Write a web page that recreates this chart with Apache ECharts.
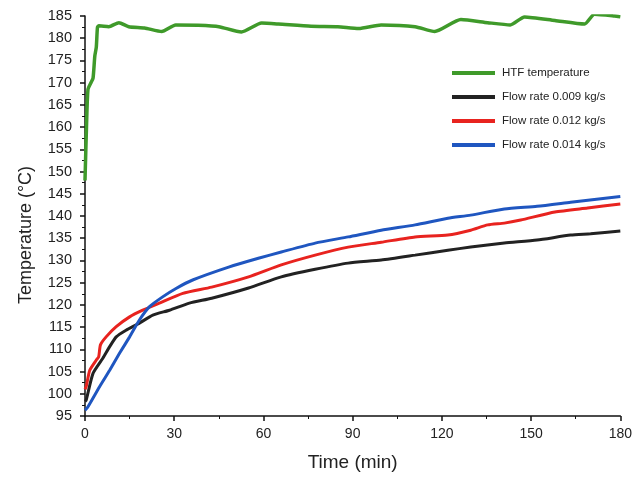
<!DOCTYPE html>
<html>
<head>
<meta charset="utf-8">
<script src="https://cdn.jsdelivr.net/npm/echarts@6/dist/echarts.min.js"></script>
<style>
  html, body { margin: 0; padding: 0; background: #fff; }
  #chart { width: 635px; height: 478px; }
</style>
</head>
<body>
<div id="chart"></div>
<script>
// HTF temperature
var htfTime = [0, 0.5, 1, 2, 2.7, 3.3, 3.8, 4.2, 4.7, 8, 11.4, 14.7, 20, 25.8, 30.5, 38, 45, 52.6, 59.4, 65, 76, 85, 92, 99.6, 111, 117.6, 126.4, 135.4, 143, 147.8, 158, 168, 171.3, 178, 180];
var htfTemp = [148, 160, 168.5, 170, 171, 176, 178, 182.5, 182.8, 182.6, 183.5, 182.6, 182.3, 181.5, 183, 182.9, 182.6, 181.4, 183.4, 183.2, 182.7, 182.6, 182.2, 183, 182.6, 181.5, 184.2, 183.5, 183, 184.8, 184, 183.2, 185.4, 185, 184.8];

// Flow rate 0.009 kg/s
var blackTime = [0, 0.4, 2.7, 6, 8.3, 10.5, 13.8, 18.3, 22.8, 28.4, 35.1, 42.6, 55, 66, 77.4, 88.5, 99.6, 111, 122, 129.7, 141, 152, 163.3, 170, 180];
var blackTemp = [98.3, 98.6, 104.6, 108, 110.6, 112.8, 114.3, 115.9, 117.7, 118.8, 120.4, 121.5, 123.8, 126.3, 128, 129.4, 130.1, 131.2, 132.3, 133, 133.9, 134.6, 135.7, 136, 136.6];

// Flow rate 0.012 kg/s
var redTime = [0, 0.4, 1.6, 3.8, 4.6, 5.2, 7.1, 10.5, 15, 19.4, 25, 32.9, 42.6, 55, 66, 77.4, 88.5, 99.6, 111, 122, 129.7, 135.4, 141, 146.5, 158, 169, 180];
var redTemp = [101, 101.6, 105.3, 107.6, 108.3, 111, 112.8, 115.1, 117.3, 118.8, 120.4, 122.6, 124, 126.3, 129, 131.2, 133, 134.1, 135.3, 135.7, 136.8, 138, 138.4, 139.1, 140.9, 141.8, 142.7];

// Flow rate 0.014 kg/s
var blueTime = [0, 1, 4.9, 8.3, 11.6, 15, 18.3, 21.7, 26.1, 30.6, 36.2, 48.3, 58.3, 66, 77.4, 88.5, 99.6, 111, 122, 129.7, 141, 152, 163.3, 180];
var blueTemp = [96.3, 97.1, 101.6, 105.3, 109.1, 112.8, 116.6, 119.6, 121.8, 123.7, 125.6, 128.5, 130.5, 131.9, 133.9, 135.3, 136.8, 138, 139.5, 140.2, 141.6, 142.2, 143.1, 144.4];

var seriesNames = ['HTF temperature', 'Flow rate 0.009 kg/s', 'Flow rate 0.012 kg/s', 'Flow rate 0.014 kg/s'];
var seriesColors = ['#3f9a2a', '#222222', '#e8231f', '#1f56c0'];

function pairs(xs, ys) {
    return xs.map(function (x, i) { return [x, ys[i]]; });
}

var allData = [
    pairs(htfTime, htfTemp),
    pairs(blackTime, blackTemp),
    pairs(redTime, redTemp),
    pairs(blueTime, blueTemp)
];

var series = allData.map(function (d, i) {
    return {
        name: seriesNames[i],
        type: 'line',
        data: d,
        showSymbol: false,
        smooth: 0.2,
        lineStyle: { width: i === 0 ? 3.5 : 3, color: seriesColors[i] },
        itemStyle: { color: seriesColors[i] },
        z: i === 0 ? 2 : 3
    };
});

var chart = echarts.init(document.getElementById('chart'));
var font = 'Liberation Sans, Arial, sans-serif';
chart.setOption({
    animation: false,
    grid: { left: 85, right: 12, top: 16, bottom: 62 },
    legend: {
        data: seriesNames,
        orient: 'vertical',
        left: 452,
        top: 67,
        padding: 0,
        icon: 'rect',
        itemWidth: 43,
        itemHeight: 4,
        itemGap: 12,
        textStyle: { fontFamily: font, fontSize: 11.5, color: '#222', padding: [0, 0, 0, 2] }
    },
    graphic: [{
        type: 'text',
        x: 26,
        y: 235,
        rotation: Math.PI / 2,
        style: {
            text: 'Temperature (°C)',
            fontFamily: font,
            fontSize: 18,
            fill: '#222',
            align: 'center',
            verticalAlign: 'middle'
        }
    }],
    xAxis: {
        type: 'value',
        min: 0, max: 180, interval: 30,
        name: 'Time (min)',
        nameLocation: 'middle',
        nameGap: 37,
        nameTextStyle: { fontFamily: font, fontSize: 19, color: '#222' },
        axisLine: { show: true, onZero: false, lineStyle: { color: '#111', width: 1.5 } },
        axisTick: { show: true, length: 5, lineStyle: { color: '#111', width: 1.5 } },
        minorTick: { show: true, splitNumber: 2, length: 3, lineStyle: { color: '#111' } },
        axisLabel: { fontFamily: font, fontSize: 14, color: '#222', margin: 11 },
        splitLine: { show: false }
    },
    yAxis: {
        type: 'value',
        min: 95, max: 185, interval: 5,
        axisLine: { show: true, onZero: false, lineStyle: { color: '#111', width: 1.5 } },
        axisTick: { show: true, length: 5, lineStyle: { color: '#111', width: 1.5 } },
        minorTick: { show: true, splitNumber: 2, length: 3, lineStyle: { color: '#111' } },
        axisLabel: { fontFamily: font, fontSize: 14.5, color: '#222', margin: 13 },
        splitLine: { show: false }
    },
    series: series
});
</script>
</body>
</html>
